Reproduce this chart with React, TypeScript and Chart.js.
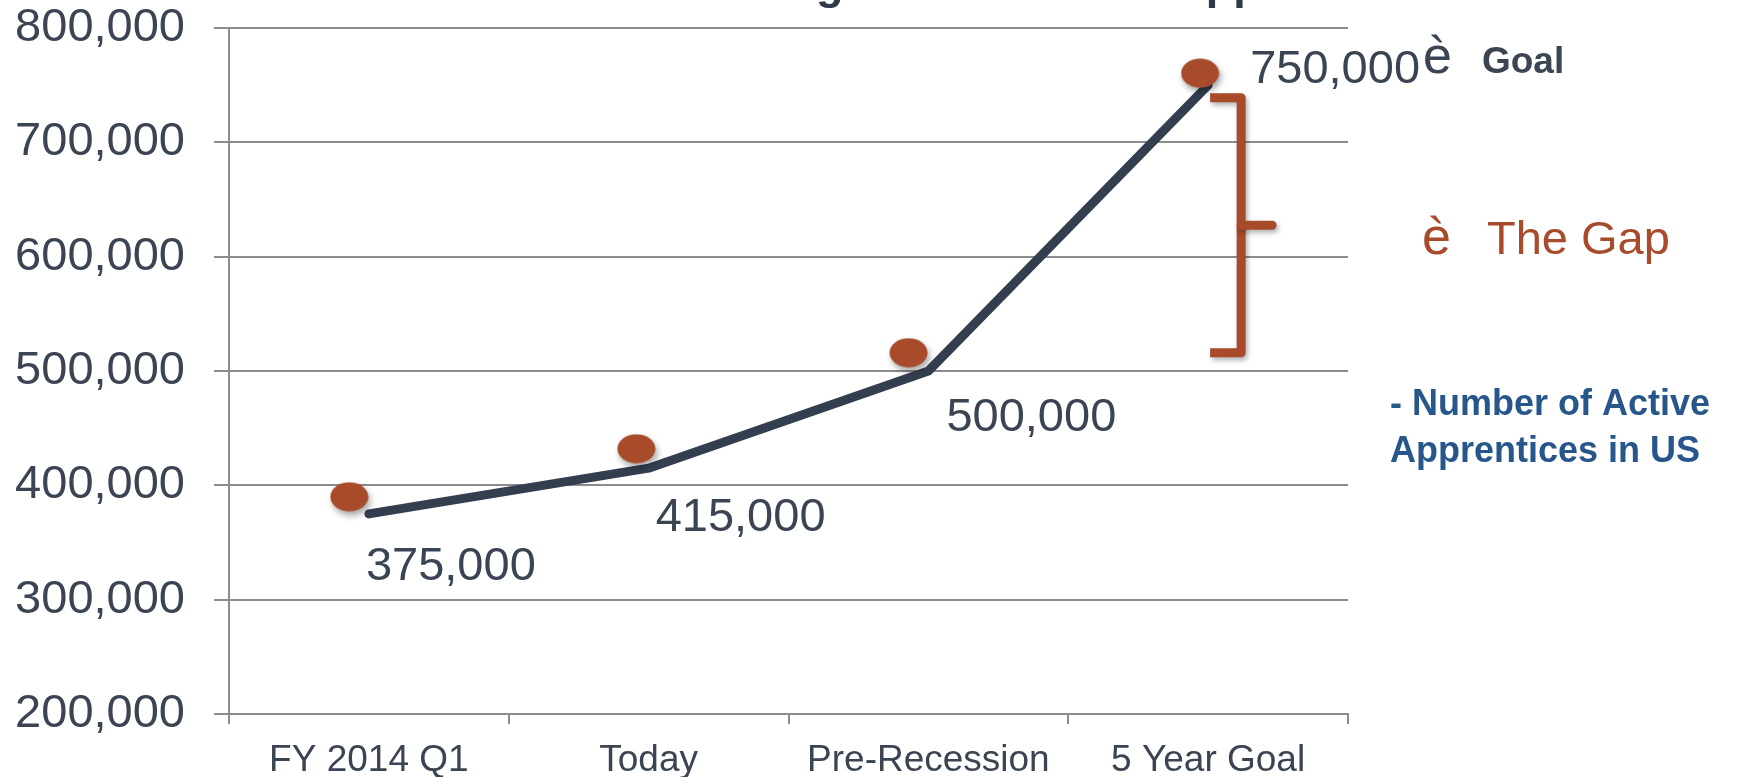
import React, { useEffect, useRef } from "react";
import { Chart, registerables } from "chart.js";

Chart.register(...registerables);

// ---------- data ----------
const CATEGORIES = ["FY 2014 Q1", "Today", "Pre-Recession", "5 Year Goal"];
const ACTIVE_APPRENTICES = [375000, 415000, 500000, 750000];
// decorative orange markers (sit a little above/left of each line point)
const MARKER_VALUES = [390000, 432000, 516000, 760500];
const MARKER_SHIFT = [-0.07, -0.044, -0.071, -0.029]; // in category units
const Y_MIN = 200000;
const Y_MAX = 800000;
const Y_STEP = 100000;
const GAP_TOP = 739000;
const GAP_BOTTOM = 516000;
const TITLE = "Doubling the Number of Apprentices";
const ARROW = "è";
const GOAL_TEXT = "Goal";
const GAP_TEXT = "The Gap";
const NOTE_LINES = ["- Number of Active", "Apprentices in US"];

// ---------- style ----------
const FONT = "'Liberation Sans', Arial, Helvetica, sans-serif";
const DARK = "#3a4452";
const LINE = "#333f4f";
const RUST = "#a84b2b";
const BLUE = "#27568a";
const GRID = "#8c8c8c";
// label offsets from the line point (dx, dy to baseline)
const LABEL_OFFSETS: [number, number][] = [
  [-3, 66],
  [7, 63],
  [18, 60],
  [42, -2],
];

const fmt = (v: number) => Number(v).toLocaleString("en-US");

function makeDot(): HTMLCanvasElement {
  const c = document.createElement("canvas");
  c.width = 39;
  c.height = 30;
  const g = c.getContext("2d")!;
  g.fillStyle = RUST;
  g.beginPath();
  g.ellipse(19.5, 15, 19, 14.5, 0, 0, Math.PI * 2);
  g.fill();
  return c;
}

const shadowPlugin = {
  id: "dotShadow",
  beforeDatasetDraw(chart: any, args: any) {
    if (args.index === 0) {
      const ctx = chart.ctx;
      ctx.save();
      ctx.shadowColor = "rgba(0,0,0,0.35)";
      ctx.shadowBlur = 6;
      ctx.shadowOffsetX = 2;
      ctx.shadowOffsetY = 4;
    }
  },
  afterDatasetDraw(chart: any, args: any) {
    if (args.index === 0) chart.ctx.restore();
  },
};

const annotationPlugin = {
  id: "annotations",
  beforeDatasetsDraw(chart: any) {
    const { ctx, scales } = chart;
    const x = scales.x;
    const y = scales.y;
    // bracket "The Gap"
    const xg = x.getPixelForValue(CATEGORIES.length - 1);
    const yTop = y.getPixelForValue(GAP_TOP);
    const yBot = y.getPixelForValue(GAP_BOTTOM);
    const yMid = (yTop + yBot) / 2;
    ctx.save();
    ctx.strokeStyle = RUST;
    ctx.lineWidth = 9;
    ctx.lineJoin = "round";
    ctx.shadowColor = "rgba(0,0,0,0.3)";
    ctx.shadowBlur = 5;
    ctx.shadowOffsetX = 2;
    ctx.shadowOffsetY = 3;
    ctx.beginPath();
    ctx.moveTo(xg + 2, yTop);
    ctx.lineTo(xg + 33, yTop);
    ctx.lineTo(xg + 33, yBot);
    ctx.lineTo(xg + 2, yBot);
    ctx.stroke();
    ctx.lineCap = "round";
    ctx.beginPath();
    ctx.moveTo(xg + 33, yMid);
    ctx.lineTo(xg + 64, yMid);
    ctx.stroke();
    ctx.restore();
  },
  afterDraw(chart: any) {
    const { ctx, scales, chartArea } = chart;
    const x = scales.x;
    const y = scales.y;
    ctx.save();
    // cut-off title (only descenders visible)
    ctx.fillStyle = "#2f3a48";
    ctx.font = `bold 45px ${FONT}`;
    ctx.textAlign = "left";
    ctx.textBaseline = "alphabetic";
    const gX = x.getPixelForValue(0) + 447;
    ctx.fillText(TITLE, gX - ctx.measureText("Doublin").width, -1);

    // value labels
    ctx.fillStyle = DARK;
    ctx.font = `47px ${FONT}`;
    let lastEnd = 0;
    let lastBase = 0;
    ACTIVE_APPRENTICES.forEach((v, i) => {
      const px = x.getPixelForValue(i) + LABEL_OFFSETS[i][0];
      const py = y.getPixelForValue(v) + LABEL_OFFSETS[i][1];
      const t = fmt(v);
      ctx.fillText(t, px, py);
      lastEnd = px + ctx.measureText(t).width;
      lastBase = py;
    });
    // arrow + Goal after the last label
    ctx.font = `52px ${FONT}`;
    ctx.fillText(ARROW, lastEnd + 3, lastBase - 10);
    const arrowW = ctx.measureText(ARROW).width;
    ctx.font = `bold 37px ${FONT}`;
    ctx.fillText(GOAL_TEXT, lastEnd + 3 + arrowW + 30, lastBase - 10);

    // The Gap
    const r = chartArea.right;
    const t = chartArea.top;
    ctx.fillStyle = RUST;
    ctx.font = `52px ${FONT}`;
    ctx.fillText(ARROW, r + 74, t + 226);
    ctx.font = `47px ${FONT}`;
    ctx.fillText(GAP_TEXT, r + 139, t + 226);

    // series note
    ctx.fillStyle = BLUE;
    ctx.font = `bold 36px ${FONT}`;
    ctx.fillText(NOTE_LINES[0], r + 42, t + 387);
    ctx.fillText(NOTE_LINES[1], r + 42, t + 434);
    ctx.restore();
  },
};

export default function App() {
  const ref = useRef<HTMLCanvasElement | null>(null);

  useEffect(() => {
    if (!ref.current) return;
    const dot = makeDot();
    const chart = new Chart(ref.current, {
      type: "line",
      data: {
        labels: CATEGORIES,
        datasets: [
          {
            type: "scatter",
            label: "markers",
            data: MARKER_VALUES.map((v, i) => ({ x: i + MARKER_SHIFT[i], y: v })),
            xAxisID: "x2",
            yAxisID: "y",
            pointStyle: dot as any,
            pointRadius: 20,
            showLine: false,
            clip: false as any,
          } as any,
          {
            type: "line",
            label: "Number of Active Apprentices in US",
            data: ACTIVE_APPRENTICES,
            xAxisID: "x",
            yAxisID: "y",
            borderColor: LINE,
            borderWidth: 9,
            borderCapStyle: "round",
            borderJoinStyle: "round",
            pointRadius: 0,
            tension: 0,
            fill: false,
          },
        ],
      },
      options: {
        animation: false,
        responsive: true,
        maintainAspectRatio: false,
        devicePixelRatio: 1,
        layout: { padding: { top: 28, right: 393, bottom: 0, left: 0 } },
        plugins: {
          legend: { display: false },
          tooltip: { enabled: false },
          title: { display: false },
        },
        scales: {
          x: {
            type: "category",
            offset: true,
            grid: {
              display: true,
              drawOnChartArea: false,
              drawTicks: true,
              tickLength: 10,
              offset: true,
              color: GRID,
              lineWidth: 2,
            },
            border: { display: true, color: GRID, width: 2 },
            ticks: {
              color: DARK,
              font: { family: FONT, size: 37 },
              padding: 15,
              maxRotation: 0,
              autoSkip: false,
            },
            afterFit: (s: any) => {
              s.height = 63;
              s.paddingLeft = 0;
              s.paddingRight = 0;
            },
          },
          x2: {
            type: "linear",
            display: false,
            min: -0.5,
            max: CATEGORIES.length - 0.5,
          },
          y: {
            type: "linear",
            min: Y_MIN,
            max: Y_MAX,
            ticks: {
              stepSize: Y_STEP,
              padding: 29,
              color: DARK,
              font: { family: FONT, size: 47 },
              callback: (v: any) => fmt(v),
            },
            grid: { color: GRID, lineWidth: 2, tickLength: 15 },
            border: { display: true, color: GRID, width: 2 },
            afterFit: (s: any) => {
              s.width = 229;
              s.paddingTop = 0;
              s.paddingBottom = 0;
            },
          },
        },
      } as any,
      plugins: [shadowPlugin, annotationPlugin],
    });
    return () => chart.destroy();
  }, []);

  return (
    <div
      style={{
        position: "absolute",
        left: 0,
        top: 0,
        width: 1741,
        height: 777,
        background: "#ffffff",
      }}
    >
      <canvas ref={ref} />
    </div>
  );
}
